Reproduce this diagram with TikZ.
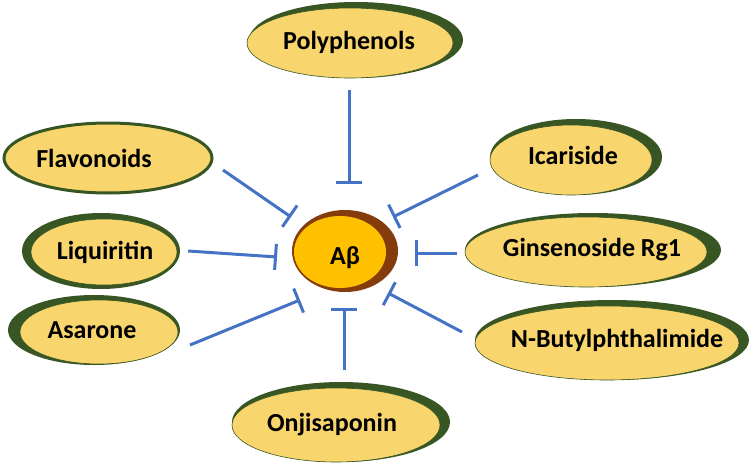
\documentclass[tikz,border=0pt]{standalone}
\usepackage{fontspec}
\setmainfont{Carlito}
\usetikzlibrary{arrows.meta,shapes.geometric}
\definecolor{leafyel}{HTML}{F9D56E}
\definecolor{leafgrn}{HTML}{375623}
\definecolor{abbrown}{HTML}{843C0C}
\definecolor{abyel}{HTML}{FFC000}
\definecolor{inhblue}{HTML}{4472C4}
\tikzset{
  leaf/.style={ellipse, fill=leafyel, draw=leafgrn, line width=0.6pt, inner sep=0pt},
  shade/.style={ellipse, fill=leafgrn, inner sep=0pt},
  lbl/.style={font=\bfseries\fontsize{26}{28}\selectfont, text=black, inner sep=0pt},
  inhib/.style={draw=inhblue, line width=3pt, -{Bar[width=26pt,line width=3pt]}}
}
\begin{document}
\begin{tikzpicture}[x=1pt,y=-1pt]
\useasboundingbox (0,0) rectangle (750,463);
% Polyphenols
\node[shade, minimum width=214pt, minimum height=76pt] (polys) at (356,40) {};
\node[leaf, minimum width=206pt, minimum height=70pt] (poly) at (350,43) {};
\node[lbl] (polyt) at (349,42) {Polyphenols};
% Flavonoids
\node[leaf, draw=leafgrn, line width=3pt, minimum width=208pt, minimum height=70pt] (flav) at (108,158) {};
\node[lbl] (flavt) at (94,158) {Flavonoids};
% Liquiritin
\node[shade, minimum width=158pt, minimum height=76pt] (liqs) at (101,251) {};
\node[leaf, minimum width=146pt, minimum height=66pt] (liq) at (104,252) {};
\node[lbl] (liqt) at (105,252) {Liquiritin};
% Asarone
\node[shade, minimum width=172pt, minimum height=70pt] (asas) at (94,330) {};
\node[leaf, minimum width=158pt, minimum height=64pt] (asa) at (99,332) {};
\node[lbl] (asat) at (92,330) {Asarone};
% Icariside
\node[shade, minimum width=172pt, minimum height=76pt] (icas) at (576,157) {};
\node[leaf, minimum width=162pt, minimum height=70pt] (ica) at (571,160) {};
\node[lbl] (icat) at (573,155) {Icariside};
% Ginsenoside Rg1
\node[shade, minimum width=256pt, minimum height=74pt] (ginss) at (593,250) {};
\node[leaf, minimum width=242pt, minimum height=70pt] (gins) at (586,252) {};
\node[lbl] (ginst) at (592,250) {Ginsenoside Rg1};
% N-Butylphthalimide
\node[shade, minimum width=274pt, minimum height=80pt] (nbps) at (612,340) {};
\node[leaf, minimum width=264pt, minimum height=74pt] (nbp) at (607,343) {};
\node[lbl] (nbpt) at (617,340) {N-Butylphthalimide};
% Onjisaponin
\node[shade, minimum width=218pt, minimum height=80pt] (onjs) at (341,422) {};
\node[leaf, minimum width=208pt, minimum height=74pt] (onj) at (336,425) {};
\node[lbl] (onjt) at (332,425) {Onjisaponin};
% Abeta
\node[ellipse, fill=abbrown, inner sep=0pt, minimum width=106pt, minimum height=82pt] (abo) at (345,251) {};
\node[ellipse, fill=abyel, inner sep=0pt, minimum width=92pt, minimum height=72pt] (abi) at (340,252) {};
\node[lbl] (abt) at (345,258) {Aβ};
% connector ends
\coordinate (p1) at (349,90);  \coordinate (q1) at (349,184);
\coordinate (p2) at (223,170); \coordinate (q2) at (291,217);
\coordinate (p3) at (188,251); \coordinate (q3) at (277,257);
\coordinate (p4) at (190,345); \coordinate (q4) at (300,300);
\coordinate (p5) at (344,370); \coordinate (q5) at (344,308);
\coordinate (p6) at (462,332); \coordinate (q6) at (388,293);
\coordinate (p7) at (457,253); \coordinate (q7) at (415,253);
\coordinate (p8) at (478,175); \coordinate (q8) at (393,217);
\foreach \i in {1,...,8} { \draw[inhib] (p\i) -- (q\i); }
\end{tikzpicture}
\end{document}
